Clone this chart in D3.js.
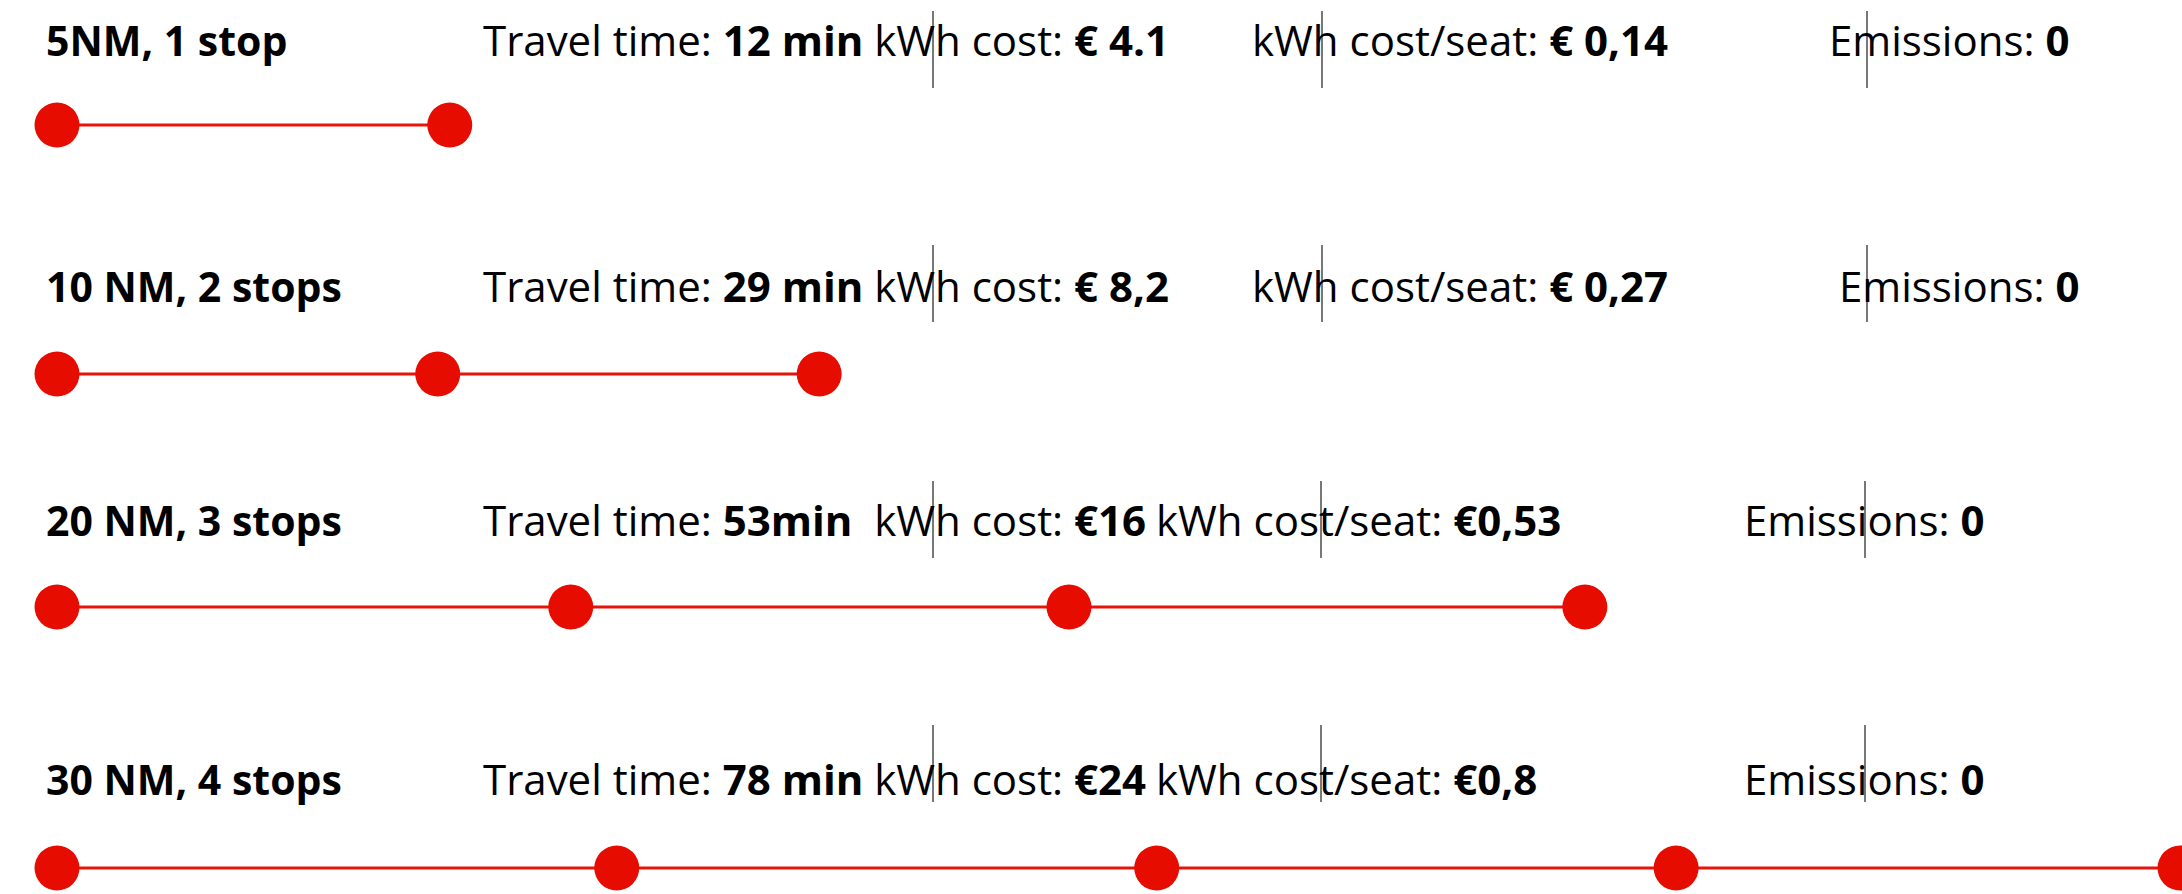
<!DOCTYPE html>
<html>
<head>
<meta charset="utf-8">
<script src="https://cdn.jsdelivr.net/npm/d3@7"></script>
<style>
  body { margin: 0; background: #fff; }
  text { font-family: "Open Sans", sans-serif; white-space: pre; }
</style>
</head>
<body>
<div class="root"></div>
<script>
// Route data
var routes = ["5NM, 1 stop", "10 NM, 2 stops", "20 NM, 3 stops", "30 NM, 4 stops"];
var travelTimes = ["12 min", "29 min", "53min", "78 min"];
var travelGap = [" ", " ", "  ", " "];
var kwhCosts = ["€ 4.1", "€ 8,2", "€16", "€24"];
var seatCosts = ["€ 0,14", "€ 0,27", "€0,53", "€0,8"];
var emissions = ["0", "0", "0", "0"];
// stop positions along each line (route units, drawing not to scale)
var stops = [
    [0, 5.55],
    [0, 5.38, 10.77],
    [0, 7.26, 14.30, 21.59],
    [0, 7.91, 15.54, 22.88, 30]
];

// Layout of the slide
var width = 2182, height = 894;
var lineY = [125, 374, 607, 868];
var textY = [56, 302, 536, 795];
var labelX = 46, travelX = 483;
var seatX = [1252, 1252, 1156, 1156];
var emisX = [1829, 1839, 1744, 1744];
var boxEdgeX = [[933, 1322, 1867], [933, 1322, 1867], [933, 1321, 1865], [933, 1321, 1865]];
var boxEdgeTop = [11, 245, 481, 725];

var xScale = d3.scaleLinear().domain([0, 30]).range([57, 2180]);
var rowIdx = d3.range(routes.length);
var yLine = d3.scaleOrdinal().domain(rowIdx).range(lineY);
var yText = d3.scaleOrdinal().domain(rowIdx).range(textY);

var svg = d3.select(".root").append("svg")
    .attr("width", width)
    .attr("height", height)
    .style("display", "block");

svg.append("rect").attr("width", width).attr("height", height).attr("fill", "#fff");

var rows = svg.selectAll("g.row")
    .data(rowIdx)
    .enter().append("g")
    .attr("class", "row");

// thin text box edges
rows.each(function (i) {
    d3.select(this).selectAll("line.edge")
        .data(boxEdgeX[i])
        .enter().append("line")
        .attr("class", "edge")
        .attr("x1", function (d) { return d; })
        .attr("x2", function (d) { return d; })
        .attr("y1", boxEdgeTop[i])
        .attr("y2", boxEdgeTop[i] + 77)
        .attr("stroke", "#1e1e1e")
        .attr("stroke-width", 1.2);
});

// route lines
rows.append("line")
    .attr("x1", function (i) { return xScale(d3.min(stops[i])); })
    .attr("x2", function (i) { return xScale(d3.max(stops[i])); })
    .attr("y1", function (i) { return yLine(i); })
    .attr("y2", function (i) { return yLine(i); })
    .attr("stroke", "#e8140a")
    .attr("stroke-width", 3);

// stops
rows.each(function (i) {
    d3.select(this).selectAll("circle")
        .data(stops[i])
        .enter().append("circle")
        .attr("cx", function (d) { return xScale(d); })
        .attr("cy", yLine(i))
        .attr("r", 22.5)
        .attr("fill", "#e60d00");
});

// route label
rows.append("text")
    .attr("x", labelX)
    .attr("y", function (i) { return yText(i); })
    .attr("font-size", 41)
    .attr("font-weight", 700)
    .text(function (i) { return routes[i]; });

// travel time + kWh cost
var travel = rows.append("text")
    .attr("x", travelX)
    .attr("y", function (i) { return yText(i); })
    .attr("font-size", 42);
travel.append("tspan").text("Travel time: ");
travel.append("tspan").attr("font-weight", 700).text(function (i) { return travelTimes[i]; });
travel.append("tspan").text(function (i) { return travelGap[i] + "kWh cost: "; });
travel.append("tspan").attr("font-weight", 700).text(function (i) { return kwhCosts[i]; });

// cost per seat
var seat = rows.append("text")
    .attr("x", function (i) { return seatX[i]; })
    .attr("y", function (i) { return yText(i); })
    .attr("font-size", 42);
seat.append("tspan").text("kWh cost/seat: ");
seat.append("tspan").attr("font-weight", 700).text(function (i) { return seatCosts[i]; });

// emissions
var emis = rows.append("text")
    .attr("x", function (i) { return emisX[i]; })
    .attr("y", function (i) { return yText(i); })
    .attr("font-size", 42);
emis.append("tspan").text("Emissions: ");
emis.append("tspan").attr("font-weight", 700).text(function (i) { return emissions[i]; });
</script>
</body>
</html>
